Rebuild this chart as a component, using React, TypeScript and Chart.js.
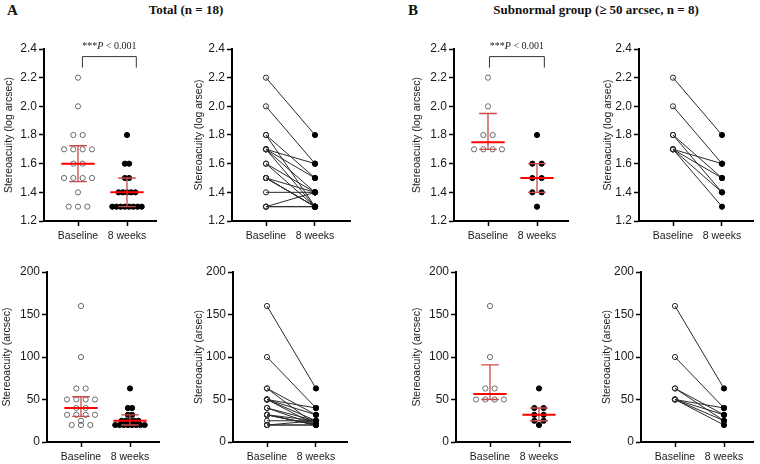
import React, { useEffect, useRef } from "react";
import { Chart, registerables } from "chart.js";
Chart.register(...registerables);

// ---------- data ----------
const categories = ["Baseline", "8 weeks"];
const logTicks = [1.2, 1.4, 1.6, 1.8, 2.0, 2.2, 2.4];
const arcTicks = [0, 50, 100, 150, 200];

// Total (n = 18); index i of baseline pairs with index i of 8 weeks
const totalBaselineLog = [2.2, 2.0, 1.8, 1.8, 1.7, 1.7, 1.7, 1.7, 1.6, 1.6, 1.5, 1.5, 1.5, 1.5, 1.4, 1.3, 1.3, 1.3];
const totalWeek8Log = [1.8, 1.6, 1.5, 1.3, 1.6, 1.5, 1.4, 1.3, 1.4, 1.3, 1.4, 1.3, 1.3, 1.3, 1.4, 1.3, 1.3, 1.4];
const totalBaselineArc = [160, 100, 63, 63, 50, 50, 50, 50, 40, 40, 32, 32, 32, 32, 25, 20, 20, 20];
const totalWeek8Arc = [63, 40, 32, 20, 40, 32, 25, 20, 25, 20, 25, 20, 20, 20, 25, 20, 20, 25];

// Subnormal group (>= 50 arcsec, n = 8)
const subBaselineLog = [2.2, 2.0, 1.8, 1.8, 1.7, 1.7, 1.7, 1.7];
const subWeek8Log = [1.8, 1.6, 1.5, 1.4, 1.6, 1.5, 1.4, 1.3];
const subBaselineArc = [160, 100, 63, 63, 50, 50, 50, 50];
const subWeek8Arc = [63, 40, 32, 25, 40, 32, 25, 20];

const pText = ["***", "P", " < 0.001"];
const titleA = "Total (n = 18)";
const titleB = "Subnormal group (\u2265 50 arcsec, n = 8)";

// ---------- helpers ----------
function quantile(arr: number[], p: number) {
  const s = [...arr].sort((a, b) => a - b);
  const n = s.length;
  const pos = p * (n + 1);
  if (pos <= 1) return s[0];
  if (pos >= n) return s[n - 1];
  const lo = Math.floor(pos);
  const f = pos - lo;
  return s[lo - 1] + f * (s[lo] - s[lo - 1]);
}

function swarm(values: number[], center: number, spacing: number) {
  const counts = new Map<number, number>();
  values.forEach((v) => counts.set(v, (counts.get(v) || 0) + 1));
  const kmax = Math.max(...Array.from(counts.values()));
  const sp = Math.min(spacing, 0.6 / Math.max(kmax - 1, 1));
  const sorted = [...values].sort((a, b) => b - a);
  const idx = new Map<number, number>();
  return sorted.map((v) => {
    const k = counts.get(v) || 1;
    const i = idx.get(v) || 0;
    idx.set(v, i + 1);
    return { x: center + (i - (k - 1) / 2) * sp, y: v };
  });
}

const FONT = "'Liberation Sans', Arial, sans-serif";
const SERIF = "'Liberation Serif', 'Times New Roman', serif";

type Panel = {
  kind: "dot" | "pair";
  log: boolean;
  b: number[];
  w: number[];
  axisX: number;
  axisW: number;
  yw: number;
  row: number;
  title: string;
  bracket?: [number, number];
};

const panels: Panel[] = [
  { kind: "dot", log: true, b: totalBaselineLog, w: totalWeek8Log, axisX: 44, axisW: 112, yw: 44, row: 0, title: "Stereoacuity (log arcsec)", bracket: [1.09, 2.19] },
  { kind: "pair", log: true, b: totalBaselineLog, w: totalWeek8Log, axisX: 232, axisW: 118, yw: 42, row: 0, title: "Stereoacuity (log arsec)" },
  { kind: "dot", log: true, b: subBaselineLog, w: subWeek8Log, axisX: 454, axisW: 114, yw: 46, row: 0, title: "Stereoacuity (log arcsec)", bracket: [1.03, 2.15] },
  { kind: "pair", log: true, b: subBaselineLog, w: subWeek8Log, axisX: 639, axisW: 114, yw: 40, row: 0, title: "Stereoacuity (log arsec)" },
  { kind: "dot", log: false, b: totalBaselineArc, w: totalWeek8Arc, axisX: 47, axisW: 112, yw: 49, row: 1, title: "Stereoacuity (arcsec)" },
  { kind: "pair", log: false, b: totalBaselineArc, w: totalWeek8Arc, axisX: 233, axisW: 114, yw: 43, row: 1, title: "Stereoacuity (arsec)" },
  { kind: "dot", log: false, b: subBaselineArc, w: subWeek8Arc, axisX: 456, axisW: 114, yw: 48, row: 1, title: "Stereoacuity (arcsec)" },
  { kind: "pair", log: false, b: subBaselineArc, w: subWeek8Arc, axisX: 641, axisW: 112, yw: 43, row: 1, title: "Stereoacuity (arsec)" },
];

const rows = [
  { canvasTop: 28, chartTop: 49, chartBottom: 221, xH: 24 },
  { canvasTop: 262, chartTop: 272, chartBottom: 442, xH: 22 },
];
const PX_PER_UNIT = 49;
const FIRST_CAT_OFFSET = 34;
const RIGHT_PAD = 6;

function geom(p: Panel) {
  const r = rows[p.row];
  const left = p.axisX - p.yw;
  const width = p.yw + p.axisW + RIGHT_PAD;
  const height = r.chartBottom - r.canvasTop + r.xH;
  return { left, top: r.canvasTop, width, height, padTop: r.chartTop - r.canvasTop, xH: r.xH };
}

function makeChart(canvas: HTMLCanvasElement, p: Panel) {
  const g = geom(p);
  const xMin = 1 - FIRST_CAT_OFFSET / PX_PER_UNIT;
  const xMax = xMin + p.axisW / PX_PER_UNIT;
  const yTicks = p.log ? logTicks : arcTicks;
  const datasets: any[] = [];
  if (p.kind === "dot") {
    datasets.push({
      data: swarm(p.b, 1, 0.19),
      pointRadius: 2.6,
      pointBackgroundColor: "rgba(255,255,255,0)",
      pointBorderColor: "#6a6a6a",
      pointBorderWidth: 1,
      showLine: false,
    });
    datasets.push({
      data: swarm(p.w, 2, 0.19),
      pointRadius: 2.6,
      pointBackgroundColor: "#000",
      pointBorderColor: "#000",
      pointBorderWidth: 1,
      showLine: false,
    });
  } else {
    p.b.forEach((bv, i) => {
      datasets.push({
        data: [
          { x: 1, y: bv },
          { x: 2, y: p.w[i] },
        ],
        showLine: true,
        borderColor: "#2a2a2a",
        borderWidth: 1,
        pointRadius: 2.6,
        pointBackgroundColor: ["rgba(255,255,255,0)", "#000"],
        pointBorderColor: ["#2a2a2a", "#000"],
        pointBorderWidth: 1,
      });
    });
  }

  const overlay = {
    id: "overlay",
    afterDatasetsDraw(chart: any) {
      if (p.kind !== "dot") return;
      const { ctx } = chart;
      const x = chart.scales.x;
      const y = chart.scales.y;
      ([[p.b, 1], [p.w, 2]] as [number[], number][]).forEach(([vals, c]) => {
        const med = quantile(vals, 0.5);
        const q1 = quantile(vals, 0.25);
        const q3 = quantile(vals, 0.75);
        const xc = x.getPixelForValue(c);
        const cap = x.getPixelForValue(c + 0.18) - xc;
        const mh = x.getPixelForValue(c + 0.34) - xc;
        ctx.save();
        ctx.strokeStyle = "#cc4a4a";
        ctx.lineWidth = 1.3;
        ctx.beginPath();
        const y1 = y.getPixelForValue(q1);
        const y3 = y.getPixelForValue(q3);
        ctx.moveTo(xc, y1);
        ctx.lineTo(xc, y3);
        ctx.moveTo(xc - cap, y1);
        ctx.lineTo(xc + cap, y1);
        ctx.moveTo(xc - cap, y3);
        ctx.lineTo(xc + cap, y3);
        ctx.stroke();
        ctx.strokeStyle = "#ff0000";
        ctx.lineWidth = 2;
        ctx.beginPath();
        const ym = y.getPixelForValue(med);
        ctx.moveTo(xc - mh, ym);
        ctx.lineTo(xc + mh, ym);
        ctx.stroke();
        ctx.restore();
      });
    },
    afterDraw(chart: any) {
      if (!p.bracket) return;
      const { ctx } = chart;
      const x = chart.scales.x;
      const y = chart.scales.y;
      const xl = x.getPixelForValue(p.bracket[0]);
      const xr = x.getPixelForValue(p.bracket[1]);
      const yt = y.getPixelForValue(2.347);
      const yb = y.getPixelForValue(2.27);
      ctx.save();
      ctx.strokeStyle = "#333";
      ctx.lineWidth = 1;
      ctx.beginPath();
      ctx.moveTo(xl, yb);
      ctx.lineTo(xl, yt);
      ctx.lineTo(xr, yt);
      ctx.lineTo(xr, yb);
      ctx.stroke();
      const fonts = [`10px ${SERIF}`, `italic 10px ${SERIF}`, `10px ${SERIF}`];
      let total = 0;
      const widths = pText.map((t, i) => {
        ctx.font = fonts[i];
        const w = ctx.measureText(t).width;
        total += w;
        return w;
      });
      let cx = (xl + xr) / 2 - total / 2;
      ctx.fillStyle = "#222";
      ctx.textBaseline = "middle";
      ctx.textAlign = "left";
      pText.forEach((t, i) => {
        ctx.font = fonts[i];
        ctx.fillText(t, cx, yt - 10.5);
        cx += widths[i];
      });
      ctx.restore();
    },
  };

  return new Chart(canvas, {
    type: "scatter",
    data: { datasets },
    options: {
      animation: false,
      responsive: false,
      maintainAspectRatio: false,
      layout: { padding: { top: g.padTop, right: RIGHT_PAD, bottom: 0, left: 0 } },
      plugins: { legend: { display: false }, tooltip: { enabled: false } },
      scales: {
        x: {
          type: "linear",
          min: xMin,
          max: xMax,
          afterBuildTicks: (s: any) => {
            s.ticks = categories.map((_, i) => ({ value: i + 1 }));
          },
          afterFit: (s: any) => {
            s.height = g.xH;
          },
          ticks: {
            callback: (_v: any, i: number) => categories[i],
            font: { family: FONT, size: 10.5 },
            color: "#1a1a1a",
            padding: 4,
            maxRotation: 0,
            autoSkip: false,
          },
          grid: { display: true, drawOnChartArea: false, drawTicks: true, tickLength: 5, tickColor: "#000", tickWidth: 1.5 },
          border: { display: true, color: "#000", width: 2 },
        },
        y: {
          type: "linear",
          min: yTicks[0],
          max: yTicks[yTicks.length - 1],
          afterBuildTicks: (s: any) => {
            s.ticks = yTicks.map((v) => ({ value: v }));
          },
          afterFit: (s: any) => {
            s.width = p.yw;
          },
          ticks: {
            callback: (v: any) => (p.log ? Number(v).toFixed(1) : String(v)),
            font: { family: FONT, size: 12 },
            color: "#1a1a1a",
            padding: 2,
            autoSkip: false,
          },
          title: {
            display: true,
            text: p.title,
            font: { family: FONT, size: 10.5 },
            color: "#1a1a1a",
            padding: { top: 3, bottom: 0 },
          },
          grid: { display: true, drawOnChartArea: false, drawTicks: true, tickLength: 5, tickColor: "#000", tickWidth: 1.5 },
          border: { display: true, color: "#000", width: 2 },
        },
      },
    } as any,
    plugins: [overlay],
  });
}

export default function App() {
  const refs = useRef<(HTMLCanvasElement | null)[]>([]);
  useEffect(() => {
    const charts = panels.map((p, i) => makeChart(refs.current[i] as HTMLCanvasElement, p));
    return () => charts.forEach((c) => c.destroy());
  }, []);

  const headStyle: React.CSSProperties = {
    position: "absolute",
    fontFamily: SERIF,
    fontWeight: "bold",
    color: "#111",
    whiteSpace: "nowrap",
    lineHeight: 1,
  };

  return (
    <div style={{ position: "fixed", left: 0, top: 0, width: 760, height: 464, overflow: "hidden", background: "#fff" }}>
      <div style={{ ...headStyle, left: 7, top: 2.5, fontSize: 15 }}>A</div>
      <div style={{ ...headStyle, left: 186, top: 2.8, fontSize: 13, transform: "translateX(-50%)" }}>{titleA}</div>
      <div style={{ ...headStyle, left: 408, top: 2.5, fontSize: 15 }}>B</div>
      <div style={{ ...headStyle, left: 596, top: 2.8, fontSize: 13, transform: "translateX(-50%)" }}>{titleB}</div>
      {panels.map((p, i) => {
        const g = geom(p);
        return (
          <canvas
            key={i}
            ref={(el) => {
              refs.current[i] = el;
            }}
            width={g.width}
            height={g.height}
            style={{ position: "absolute", left: g.left, top: g.top, width: g.width, height: g.height }}
          />
        );
      })}
    </div>
  );
}
